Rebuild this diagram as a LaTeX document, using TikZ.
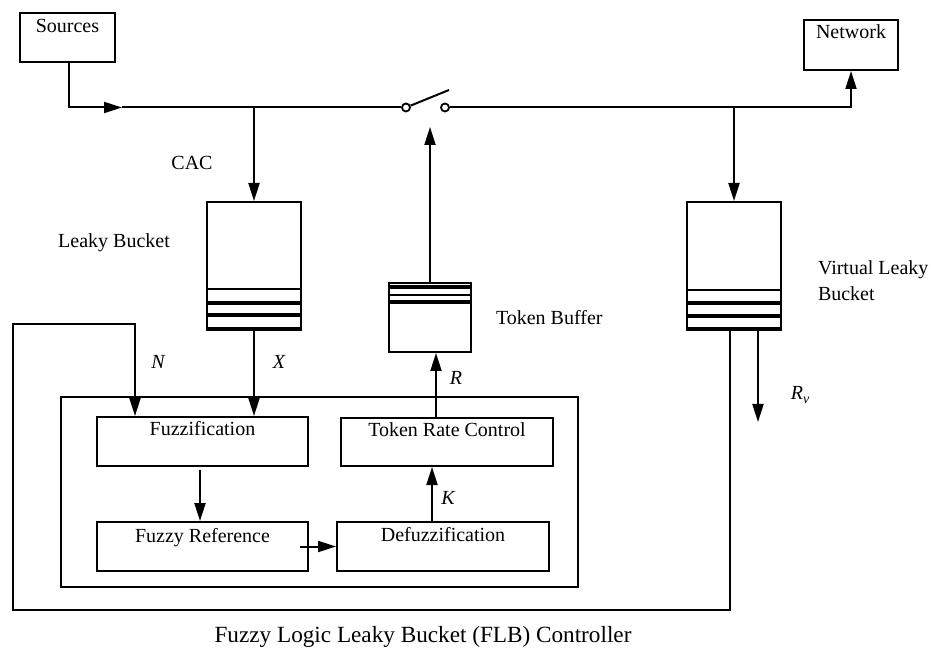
\documentclass[tikz,border=0pt]{standalone}
\usepackage{fontspec}
\setmainfont{Liberation Serif}
\usetikzlibrary{arrows.meta}
\begin{document}
\begin{tikzpicture}[x=0.5pt,y=-0.5pt, line width=1pt,
  box/.style={draw, rectangle, inner sep=0pt, line width=1pt},
  lbl/.style={anchor=base, inner sep=0pt, font=\fontsize{10}{12}\selectfont},
  arr/.style={-{Triangle[length=9pt,width=5.5pt]}},
  stripe/.style={line width=1.75pt},
  thinstripe/.style={line width=1pt},
  swc/.style={draw, circle, inner sep=0pt, minimum size=4pt, line width=0.9pt, fill=white}
]
\useasboundingbox (0,0) rectangle (931,662);

% boxes
\node[box, minimum width=47.5pt, minimum height=24.5pt] (src) at (67.5,37.5) {};
\node[lbl] at ([yshift=-10.5pt]src.north) {Sources};
\node[box, minimum width=47pt, minimum height=25pt] (net) at (851,45) {};
\node[lbl] at ([yshift=-10pt]net.north) {Network};

\node[box, minimum width=47pt, minimum height=63pt] (lb) at (254,265) {};
\node[box, minimum width=41pt, minimum height=34.5pt] (tb) at (430,317.5) {};
\node[box, minimum width=47pt, minimum height=63pt] (vlb) at (734,265) {};

\node[box, minimum width=258.5pt, minimum height=95pt] (ctrl) at (319.5,492) {};
\node[box, minimum width=105.5pt, minimum height=24.5pt] (fuzz) at (202.5,441.5) {};
\node[lbl] at ([yshift=-10pt]fuzz.north) {Fuzzification};
\node[box, minimum width=105.5pt, minimum height=24.5pt] (ref) at (202.5,546.5) {};
\node[lbl] at ([yshift=-10.5pt]ref.north) {Fuzzy Reference};
\node[box, minimum width=106pt, minimum height=24pt] (trc) at (447,442) {};
\node[lbl] at ([yshift=-9.8pt]trc.north) {Token Rate Control};
\node[box, minimum width=106pt, minimum height=24.5pt] (def) at (443,546.5) {};
\node[lbl] at ([yshift=-10.3pt]def.north) {Defuzzification};

% stripes
\draw[thinstripe] (lb.west |- 0,289) -- (lb.east |- 0,289);
\draw[stripe] (lb.west |- 0,303) -- (lb.east |- 0,303);
\draw[stripe] (lb.west |- 0,315) -- (lb.east |- 0,315);
\draw[stripe] (lb.south west) -- (lb.south east);

\draw[stripe] (tb.west |- 0,287) -- (tb.east |- 0,287);
\draw[thinstripe] (tb.west |- 0,295) -- (tb.east |- 0,295);
\draw[stripe] (tb.west |- 0,302) -- (tb.east |- 0,302);

\draw[thinstripe] (vlb.west |- 0,290) -- (vlb.east |- 0,290);
\draw[stripe] (vlb.west |- 0,303) -- (vlb.east |- 0,303);
\draw[stripe] (vlb.west |- 0,316) -- (vlb.east |- 0,316);
\draw[stripe] (vlb.south west) -- (vlb.south east);

% switch
\node[swc] (swl) at (406,107.5) {};
\node[swc] (swr) at (445,107.5) {};
\coordinate (blade) at (449,90);
\draw (swl) -- (blade);

% main line
\coordinate (srcx) at (69,0);
\coordinate (arrm) at (122,107.5);
\draw[arr] (srcx |- src.south) |- (arrm);
\draw (arrm) -- (swl);
\draw[arr] (swr) -| (net.south);
\coordinate (j1) at (254,107.5);
\coordinate (j2) at (734,107.5);
\draw[arr] (j1) -- (lb.north);
\draw[arr] (j2) -- (vlb.north);

% token buffer to switch
\coordinate (swa) at (430,127);
\draw[arr] (tb.north) -- (swa);

% feedback loop
\coordinate (fbx) at (730,0);
\coordinate (fbA) at (730,610);
\coordinate (fbB) at (13,610);
\coordinate (fbC) at (13,324);
\coordinate (fbD) at (135,324);
\draw[arr] (fbx |- vlb.south) -- (fbA) -- (fbB) -- (fbC) -- (fbD) -- (fbD |- fuzz.north);

% Rv
\coordinate (rvx) at (758,0);
\coordinate (rvend) at (758,422);
\draw[arr] (rvx |- vlb.south) -- (rvend);

% X
\draw[arr] (lb.south) -- (lb.south |- fuzz.north);

% inner arrows
\coordinate (fzx) at (200,0);
\draw[arr] ([yshift=-1.5pt]fzx |- fuzz.south) -- (fzx |- ref.north);
\coordinate (rfs) at (300,546.5);
\draw[arr] (rfs) -- (def.west);
\coordinate (kx) at (432,0);
\draw[arr] (kx |- def.north) -- (kx |- trc.south);
\coordinate (rx) at (436,0);
\draw[arr] (rx |- trc.north) -- (rx |- tb.south);

% labels
\node[lbl] (cac) at (192,170) {CAC};
\node[lbl] (lbt) at (114,248) {Leaky Bucket};
\node[lbl, anchor=base west] (tbt) at (495,325) {Token Buffer};
\node[lbl, anchor=base west] (vlbt1) at (817,275) {Virtual Leaky};
\node[lbl, anchor=base west] (vlbt2) at (817,301) {Bucket};
\node[lbl] (nl) at (158,369) {\itshape N};
\node[lbl] (xl) at (279,369) {\itshape X};
\node[lbl] (kl) at (448,504) {\itshape K};
\node[lbl] (rl) at (456,385) {\itshape R};
\node[lbl] (rvl) at (800,400) {\itshape R\raisebox{-0.35ex}{\fontsize{7}{8}\selectfont v}};

\node[inner sep=0pt, font=\fontsize{11.6}{14}\selectfont] (cap) at (423,637) {Fuzzy Logic Leaky Bucket (FLB) Controller};
\end{tikzpicture}
\end{document}
